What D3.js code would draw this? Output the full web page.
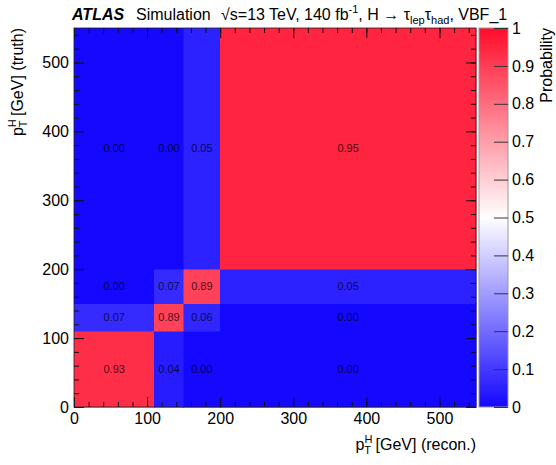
<!DOCTYPE html>
<html>
<head>
<meta charset="utf-8">
<script src="https://cdn.jsdelivr.net/npm/d3@7"></script>
<style>
  body { margin: 0; background: #fff; }
  text { font-family: "Liberation Sans", Arial, sans-serif; fill: #000; }
</style>
</head>
<body>
<div id="chart"></div>
<script>
// bin edges in pT [GeV]
var recoEdges = [0, 110, 150, 200, 550];
var truthEdges = [0, 110, 150, 200, 550];

// migration matrix, rows = truth bin, cols = reco bin
var truth0 = [0.93, 0.04, 0.00, 0.00];
var truth1 = [0.07, 0.89, 0.06, 0.00];
var truth2 = [0.00, 0.07, 0.89, 0.05];
var truth3 = [0.00, 0.00, 0.05, 0.95];
var matrix = [truth0, truth1, truth2, truth3];

var axisTicks = [0, 100, 200, 300, 400, 500];
var barTicks = [0, 0.1, 0.2, 0.3, 0.4, 0.5, 0.6, 0.7, 0.8, 0.9, 1];

var width = 556, height = 465;
// note: "top" is taken by window.top, so use plot* names
var plotLeft = 74, plotRight = 476, plotTop = 28, plotBottom = 407;

var svg = d3.select("#chart").append("svg")
    .attr("width", width)
    .attr("height", height);

var x = d3.scaleLinear().domain([0, 550]).range([plotLeft, plotRight]);
var y = d3.scaleLinear().domain([0, 550]).range([plotBottom, plotTop]);

var color = d3.scaleLinear()
    .domain([0, 0.5, 1])
    .range(["rgb(20,8,255)", "#ffffff", "rgb(255,12,42)"]);

// flatten cells
var cells = [];
matrix.forEach(function (row, j) {
    row.forEach(function (v, i) {
        cells.push({ i: i, j: j, v: v });
    });
});

var cellGroup = svg.append("g").attr("id", "cells");
cellGroup.selectAll("rect")
    .data(cells)
    .enter().append("rect")
    .attr("x", function (d) { return x(recoEdges[d.i]); })
    .attr("y", function (d) { return y(truthEdges[d.j + 1]); })
    .attr("width", function (d) { return x(recoEdges[d.i + 1]) - x(recoEdges[d.i]); })
    .attr("height", function (d) { return y(truthEdges[d.j]) - y(truthEdges[d.j + 1]); })
    .attr("shape-rendering", "crispEdges")
    .style("fill", function (d) { return color(d.v); })
    .style("stroke", function (d) { return color(d.v); })
    .style("stroke-width", 0.5);

cellGroup.selectAll("text")
    .data(cells)
    .enter().append("text")
    .attr("x", function (d) { return x((recoEdges[d.i] + recoEdges[d.i + 1]) / 2); })
    .attr("y", function (d) { return y((truthEdges[d.j] + truthEdges[d.j + 1]) / 2); })
    .attr("dy", "0.35em")
    .attr("text-anchor", "middle")
    .style("font-size", "11px")
    .style("fill-opacity", 0.75)
    .text(function (d) { return d.v.toFixed(2); });

// axes: ticks drawn inward on all four sides
function styleAxis(g) {
    g.select(".domain").remove();
    g.selectAll("line").attr("stroke", "#111");
    g.selectAll("text").style("font-size", "16px").attr("font-family", null);
}

var minorTicks = d3.range(0, 551, 20);

svg.append("g").attr("transform", "translate(0," + plotBottom + ")")
    .call(d3.axisBottom(x).tickValues(axisTicks).tickSizeInner(-10).tickPadding(6).tickFormat(d3.format("d")))
    .call(styleAxis);
svg.append("g").attr("transform", "translate(0," + plotBottom + ")")
    .call(d3.axisBottom(x).tickValues(minorTicks).tickSizeInner(-5).tickFormat(""))
    .call(styleAxis);
svg.append("g").attr("transform", "translate(0," + plotTop + ")")
    .call(d3.axisTop(x).tickValues(axisTicks).tickSizeInner(-10).tickFormat(""))
    .call(styleAxis);
svg.append("g").attr("transform", "translate(0," + plotTop + ")")
    .call(d3.axisTop(x).tickValues(minorTicks).tickSizeInner(-5).tickFormat(""))
    .call(styleAxis);

svg.append("g").attr("transform", "translate(" + plotLeft + ",0)")
    .call(d3.axisLeft(y).tickValues(axisTicks).tickSizeInner(-10).tickPadding(5).tickFormat(d3.format("d")))
    .call(styleAxis);
svg.append("g").attr("transform", "translate(" + plotLeft + ",0)")
    .call(d3.axisLeft(y).tickValues(minorTicks).tickSizeInner(-5).tickFormat(""))
    .call(styleAxis);
svg.append("g").attr("transform", "translate(" + plotRight + ",0)")
    .call(d3.axisRight(y).tickValues(axisTicks).tickSizeInner(-10).tickFormat(""))
    .call(styleAxis);
svg.append("g").attr("transform", "translate(" + plotRight + ",0)")
    .call(d3.axisRight(y).tickValues(minorTicks).tickSizeInner(-5).tickFormat(""))
    .call(styleAxis);

svg.append("rect")
    .attr("x", plotLeft).attr("y", plotTop)
    .attr("width", plotRight - plotLeft).attr("height", plotBottom - plotTop)
    .style("fill", "none").style("stroke", "#222").style("stroke-width", 0.8);

// colour bar
var barLeft = 479, barRight = 508;
var z = d3.scaleLinear().domain([0, 1]).range([plotBottom, plotTop]);

var grad = svg.append("defs").append("linearGradient")
    .attr("id", "palette")
    .attr("x1", 0).attr("y1", 1).attr("x2", 0).attr("y2", 0);
grad.selectAll("stop")
    .data(d3.range(0, 1.0001, 0.05))
    .enter().append("stop")
    .attr("offset", function (d) { return d; })
    .attr("stop-color", function (d) { return color(d); });

svg.append("rect")
    .attr("x", barLeft).attr("y", z(1))
    .attr("width", barRight - barLeft).attr("height", z(0) - z(1))
    .style("fill", "url(#palette)")
    .style("stroke", "#999").style("stroke-width", 1);

svg.append("g").attr("transform", "translate(" + barRight + ",0)")
    .call(d3.axisRight(z).tickValues(barTicks).tickSizeInner(-14).tickPadding(4).tickFormat(function (d) { return d3.format("")(+d.toFixed(1)); }))
    .call(styleAxis)
    .selectAll("line").attr("stroke", "#333");

svg.append("text")
    .attr("transform", "translate(552," + plotTop + ") rotate(-90)")
    .attr("text-anchor", "end")
    .style("font-size", "16px")
    .text("Probability");

// axis titles
var xt = svg.append("text")
    .attr("x", plotRight).attr("y", 450)
    .attr("text-anchor", "end")
    .style("font-size", "16px");
xt.append("tspan").text("p");
xt.append("tspan").attr("dy", -7).style("font-size", "11px").text("H");
xt.append("tspan").attr("dx", -8).attr("dy", 11).style("font-size", "11px").text("T");
xt.append("tspan").attr("dy", -4).text(" [GeV] (recon.)");

var yt = svg.append("text")
    .attr("transform", "translate(23," + plotTop + ") rotate(-90)")
    .attr("text-anchor", "end")
    .style("font-size", "16px");
yt.append("tspan").text("p");
yt.append("tspan").attr("dy", -7).style("font-size", "11px").text("H");
yt.append("tspan").attr("dx", -8).attr("dy", 11).style("font-size", "11px").text("T");
yt.append("tspan").attr("dy", -4).text(" [GeV] (truth)");

// header
svg.append("text")
    .attr("x", 72).attr("y", 20)
    .style("font-size", "16px").style("font-weight", "bold").style("font-style", "italic")
    .text("ATLAS");
svg.append("text")
    .attr("x", 136).attr("y", 20)
    .style("font-size", "16px")
    .text("Simulation");

var hd = svg.append("text")
    .attr("x", 221).attr("y", 20)
    .style("font-size", "16px");
hd.append("tspan").text("\u221As=13 TeV, 140 fb");
hd.append("tspan").attr("dy", -7).style("font-size", "11px").text("-1");
hd.append("tspan").attr("dy", 7).text(", H \u2192 \u03C4");
hd.append("tspan").attr("dy", 4).style("font-size", "11px").text("lep");
hd.append("tspan").attr("dy", -4).text("\u03C4");
hd.append("tspan").attr("dy", 4).style("font-size", "11px").text("had");
hd.append("tspan").attr("dy", -4).text(", VBF_1");
</script>
</body>
</html>
